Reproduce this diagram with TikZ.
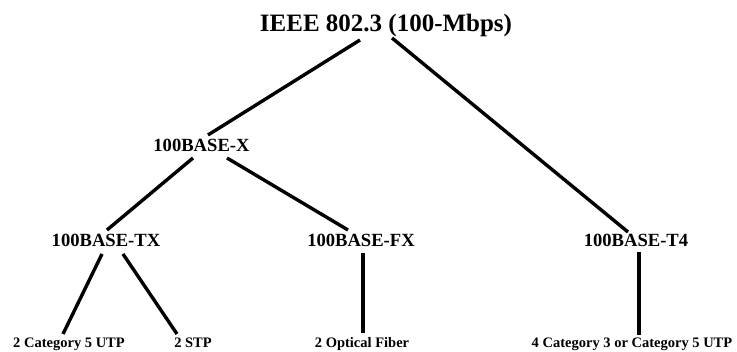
\documentclass[tikz,border=0pt]{standalone}
\usepackage{fontspec}
\setmainfont{Liberation Serif}
\begin{document}
\begin{tikzpicture}[x=1pt,y=1pt,
  lbl/.style={inner sep=0pt,anchor=base,font=\bfseries},
  big/.style={lbl,font=\bfseries\fontsize{25}{30}\selectfont},
  mid/.style={lbl,font=\bfseries\fontsize{18.6}{22}\selectfont},
  small/.style={lbl,font=\bfseries\fontsize{14.5}{17}\selectfont},
  conn/.style={line width=3.4pt,black}]
\useasboundingbox (0,0) rectangle (737,352);
\node[big] (ieee) at (386,320) {IEEE 802.3 (100-Mbps)};
\node[mid] (x) at (201.5,200) {100BASE-X};
\node[mid] (tx) at (106,105) {100BASE-TX};
\node[mid] (fx) at (361,105) {100BASE-FX};
\node[mid] (t4) at (636,105) {100BASE-T4};
\node[small] (utp) at (69,4) {2 Category 5 UTP};
\node[small] (stp) at (193,4) {2 STP};
\node[small] (fib) at (362,4) {2 Optical Fiber};
\node[small] (t4utp) at (632,4) {4 Category 3 or Category 5 UTP};
\draw[conn] ([shift={(-26,-8)}]ieee.base) -- ([shift={(6.5,17)}]x.base);
\draw[conn] ([shift={(6,-6)}]ieee.base) -- ([shift={(-8,15)}]t4.base);
\draw[conn] ([shift={(-8.5,-6)}]x.base) -- ([shift={(1,17)}]tx.base);
\draw[conn] ([shift={(25.5,-6)}]x.base) -- ([shift={(-13,17)}]fx.base);
\draw[conn] ([shift={(-4,-7)}]tx.base) -- ([shift={(-6,14)}]utp.base);
\draw[conn] ([shift={(17,-7)}]tx.base) -- ([shift={(-16,14)}]stp.base);
\draw[conn] ([shift={(2,-6)}]fx.base) -- ([shift={(1,15)}]fib.base);
\draw[conn] ([shift={(3,-5)}]t4.base) -- ([shift={(7,13)}]t4utp.base);
\end{tikzpicture}
\end{document}
